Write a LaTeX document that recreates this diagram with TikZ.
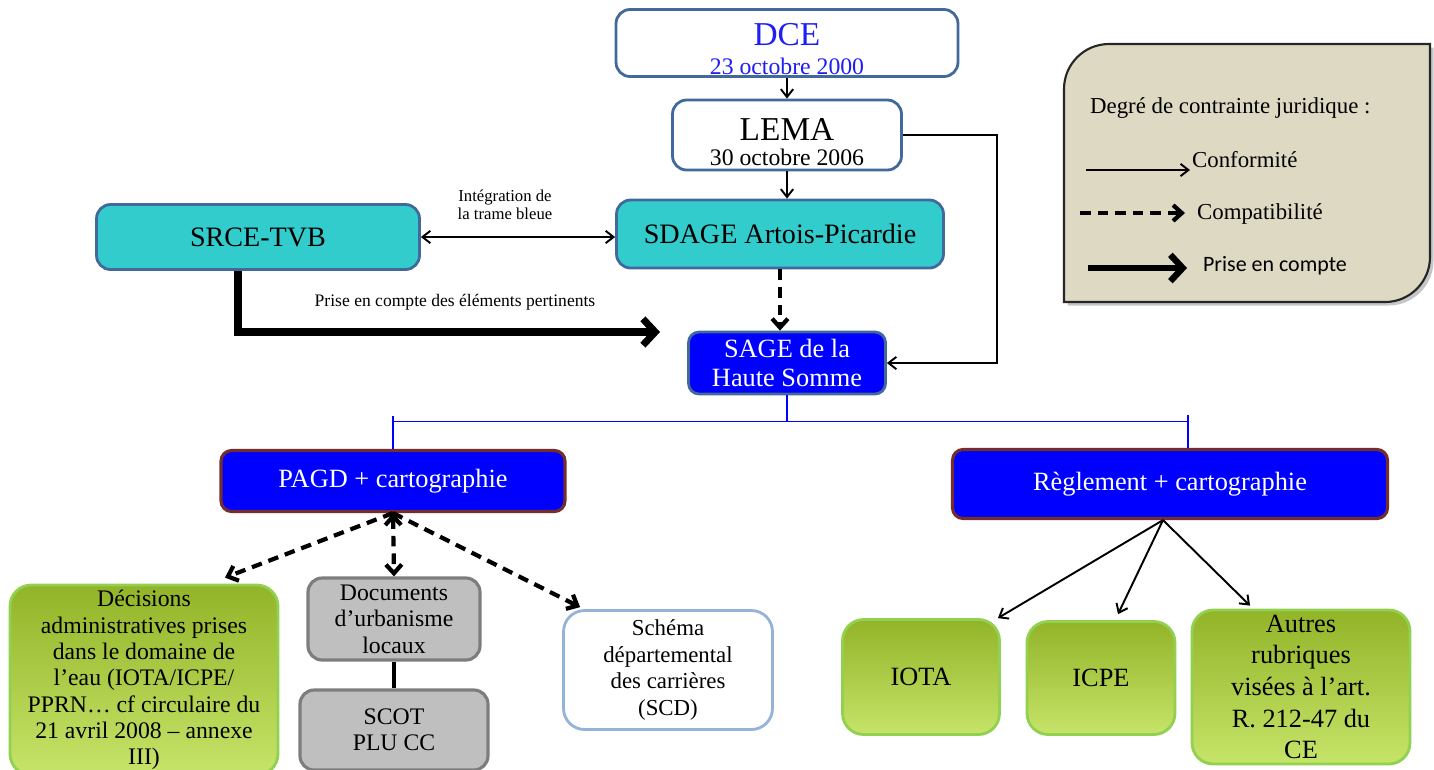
\documentclass[tikz,border=0pt]{standalone}
\usepackage{fontspec}
\setmainfont{Liberation Serif}
\newfontfamily\legendsans{Carlito}
\usetikzlibrary{arrows.meta, calc, shadows}
\definecolor{boxborder}{RGB}{65, 105, 155}
\definecolor{dceblue}{RGB}{30, 30, 245}
\definecolor{cyanfill}{RGB}{51, 204, 204}
\definecolor{sageblue}{RGB}{0, 0, 255}
\definecolor{pagdborder}{RGB}{115, 45, 45}
\definecolor{greentop}{RGB}{146, 180, 40}
\definecolor{greenbottom}{RGB}{198, 228, 105}
\definecolor{greenborder}{RGB}{146, 208, 80}
\definecolor{grayfill}{RGB}{191, 191, 191}
\definecolor{grayborder}{RGB}{125, 125, 125}
\definecolor{schemaborder}{RGB}{149, 179, 215}
\definecolor{legendfill}{RGB}{221, 217, 195}
\tikzset{
    every node/.style={align=center, inner sep=1pt},
    roundbox/.style={draw=boxborder, line width=1.6pt, rounded corners=8pt,
        fill=white},
    cyanbox/.style={roundbox, fill=cyanfill, font=\fontsize{16}{19}\selectfont},
    bluebox/.style={draw=boxborder, line width=1.6pt, rounded corners=6pt,
        fill=sageblue, text=white},
    planbox/.style={draw=pagdborder, line width=1.8pt, rounded corners=6pt,
        fill=sageblue, text=white, font=\fontsize{15}{18}\selectfont},
    greenbox/.style={draw=greenborder, line width=1.6pt, rounded corners=12pt,
        top color=greentop, bottom color=greenbottom},
    graybox/.style={draw=grayborder, line width=1.8pt, rounded corners=8pt,
        fill=grayfill, font=\fontsize{13.5}{15}\selectfont},
    legendbox/.style={draw=black!85, line width=1.2pt, fill=legendfill,
        drop shadow={opacity=.45, shadow xshift=2pt, shadow yshift=-2pt}},
    thintip/.tip={Straight Barb[length=4.5pt, width=7pt]},
    dashtip/.tip={Straight Barb[length=5pt, width=9pt]},
    conform/.style={line width=1.1pt, -thintip},
    compat/.style={line width=2.4pt, dash pattern=on 6pt off 4pt, -dashtip},
    prise/.style={line width=4pt, -{Straight Barb[length=7pt, width=15pt]}},
    bluetree/.style={draw=sageblue, line width=1pt},
    smalltext/.style={font=\fontsize{9.5}{10.5}\selectfont},
    legendtext/.style={anchor=west, font=\fontsize{13}{15}\selectfont},
}

\begin{document}
\begin{tikzpicture}[x=0.02cm, y=-0.02cm]
    \useasboundingbox (0, 0) rectangle (1434, 769);

    % legend
    \filldraw[legendbox] (1064, 302) -- (1064, 150) [rounded corners=0.9cm]
        -- (1064, 44) -- (1250, 44) [sharp corners] -- (1430, 44)
        -- (1430, 150) [rounded corners=0.9cm] -- (1430, 302)
        -- (1250, 302) [sharp corners] -- cycle;
    \node[legendtext] (legtitle) at (1088, 108) {Degré de contrainte juridique :};
    \node[legendtext] (conftxt) at (1190, 160) {Conformité};
    \node[legendtext] (compattxt) at (1195, 214) {Compatibilité};
    \node[legendtext, font=\legendsans\fontsize{12.5}{15}\selectfont] (prisetxt)
        at (1201, 266) {Prise en compte};
    \coordinate (legconf) at (1086, 170);
    \coordinate (legcompat) at (1080, 213);
    \coordinate (legprise) at (1088, 268);
    \draw[conform] (legconf) -- (legconf -| conftxt.west);
    \draw[compat] (legcompat) -- ($(legcompat -| compattxt.west)+(-10, 0)$);
    \draw[prise, line width=3.6pt] (legprise) -- ($(legprise -| prisetxt.west)+(-14, 0)$);

    % top of the chain
    \node[roundbox, minimum width=6.84cm, minimum height=1.34cm, text=dceblue]
        (dce) at (787, 43) {\fontsize{19}{20}\selectfont\rule{0pt}{19.5pt}DCE\\[4pt]
        \fontsize{13.5}{15}\selectfont 23 octobre 2000};
    \node[roundbox, minimum width=4.58cm, minimum height=1.40cm] (lema)
        at (787, 135) {\fontsize{19}{20}\selectfont\rule{0pt}{20.5pt}LEMA\\[2pt]
        \fontsize{13.5}{15}\selectfont 30 octobre 2006};
    \node[cyanbox, minimum width=6.54cm, minimum height=1.36cm] (sdage)
        at (780, 234) {SDAGE Artois-Picardie};
    \node[cyanbox, minimum width=6.46cm, minimum height=1.30cm] (srce)
        at (258, 237) {SRCE-TVB};
    \node[bluebox, minimum width=3.94cm, minimum height=1.24cm,
        font=\fontsize{15}{17}\selectfont] (sage) at (787, 363)
        {SAGE de la\\ Haute Somme};

    \draw[conform] (dce.south) -- (lema.north);
    \draw[conform] (lema.south) -- (lema.south |- sdage.north);
    \draw[conform, thintip-thintip] (srce.east) -- (sdage.west |- srce.east);
    \node[smalltext] (integ) at (505, 205) {Intégration de\\ la trame bleue};
    \coordinate (priseend) at (660, 332);
    \draw[prise] ($(srce.south)+(-20, 0)$) |- (priseend);
    \node[smalltext, font=\fontsize{10}{12}\selectfont] (pertinent) at (455, 302)
        {Prise en compte des éléments pertinents};
    \draw[compat] (sdage.south) -- (sdage.south |- sage.north);
    \draw[conform] (lema.east) -- ++(94, 0) |- (sage.east);

    % the two parts of the SAGE
    \node[planbox, minimum width=6.88cm, minimum height=1.22cm] (pagd)
        at (393, 481) {PAGD + cartographie};
    \node[planbox, minimum width=8.70cm, minimum height=1.38cm] (regl)
        at (1170, 484) {Règlement + cartographie};
    \draw[bluetree] (sage.south) -- ++(0, 26) coordinate (fork);
    \draw[bluetree] (pagd.north) |- (fork) -| ($(regl.north)+(18, 0)$);
    \draw[bluetree] (fork -| pagd.north) -- ++(0, -5);
    \draw[bluetree] ($(fork -| regl.north)+(18, 0)$) -- ++(0, -6);

    % under the PAGD
    \node[greenbox, minimum width=5.36cm, minimum height=3.80cm,
        font=\fontsize{13.5}{15}\selectfont] (decis) at (144, 680)
        {Décisions\\ administratives prises\\ dans le domaine de\\
        l’eau (IOTA/ICPE/\\ PPRN… cf circulaire du\\ 21 avril 2008 – annexe\\ III)};
    \node[graybox, minimum width=3.44cm, minimum height=1.64cm] (docs)
        at (394, 619) {Documents\\ d’urbanisme\\ locaux};
    \node[graybox, minimum width=3.76cm, minimum height=1.60cm] (scot)
        at (394, 730) {SCOT\\ PLU CC};
    \node[roundbox, draw=schemaborder, rounded corners=12pt,
        minimum width=4.18cm, minimum height=2.38cm,
        font=\fontsize{13}{15}\selectfont] (schema) at (668, 670)
        {Schéma\\ départemental\\ des carrières\\ (SCD)};
    \draw[compat] (pagd.south) -- ($(decis.north)+(81, -6)$);
    \draw[compat, dashtip-dashtip] (pagd.south) -- (docs.north);
    \draw[compat] (pagd.south) -- ($(schema.north west)+(18, -2)$);
    \draw[line width=2pt] (docs.south) -- (scot.north);

    % under the reglement
    \node[greenbox, minimum width=3.14cm, minimum height=2.30cm,
        font=\fontsize{15}{18}\selectfont] (iota) at (921, 677) {IOTA};
    \node[greenbox, minimum width=2.96cm, minimum height=2.26cm,
        font=\fontsize{15}{18}\selectfont] (icpe) at (1101, 678) {ICPE};
    \node[greenbox, minimum width=4.36cm, minimum height=3.08cm,
        font=\fontsize{15}{18}\selectfont] (autres) at (1301, 687)
        {Autres\\ rubriques\\ visées à l’art.\\ R. 212-47 du\\ CE};
    \draw[conform] ($(regl.south)+(-7, 0)$) -- ($(iota.north east)+(-3, 0)$);
    \draw[conform] ($(regl.south)+(-7, 0)$) -- ($(icpe.north)+(17, -6)$);
    \draw[conform] ($(regl.south)+(-7, 0)$) -- ($(autres.north)+(-51, -3)$);
\end{tikzpicture}
\end{document}
